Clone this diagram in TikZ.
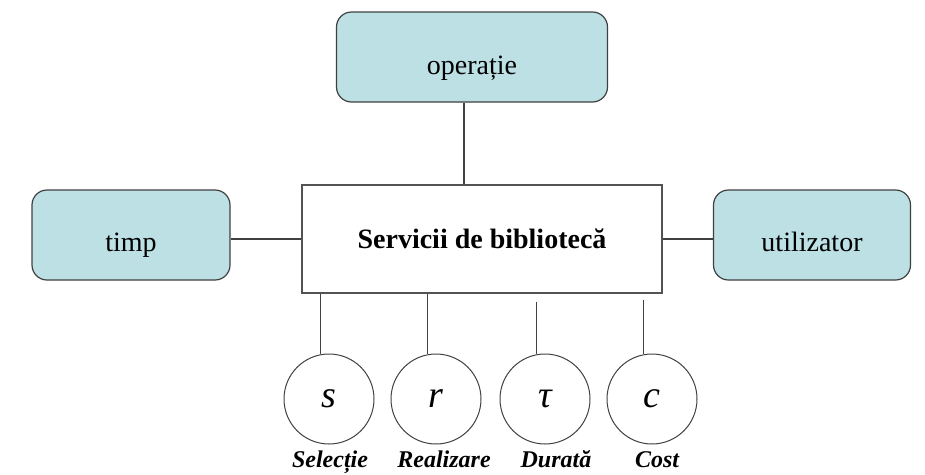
\documentclass[tikz,border=0pt]{standalone}
\usepackage{fontspec}
\setmainfont{Liberation Serif}
\usepackage{tikz}
\usetikzlibrary{shapes,positioning}
\definecolor{BoxTeal}{HTML}{BCE0E4}
\definecolor{EdgeGray}{HTML}{404040}
\tikzset{
  every node/.style={
    font=\fontsize{28}{32}\selectfont
  },
  attribute/.style={
    shape=rectangle,
    rounded corners=15pt,
    draw=EdgeGray,
    line width=1.2pt,
    fill=BoxTeal,
    inner sep=0pt,
    minimum height=90pt,
    text depth=0pt
  },
  service/.style={
    shape=rectangle,
    draw=EdgeGray!90,
    line width=1.2pt,
    fill=white,
    minimum width=360pt,
    minimum height=108pt,
    font=\fontsize{28}{32}\selectfont\bfseries
  },
  factor/.style={
    shape=circle,
    draw=EdgeGray,
    line width=1pt,
    minimum size=90pt,
    inner sep=0pt,
    font=\fontsize{38}{40}\selectfont\itshape
  },
  factor label/.style={
    anchor=base,
    font=\fontsize{24}{28}\selectfont\bfseries\itshape
  },
  link/.style={
    draw=EdgeGray,
    line width=1.2pt
  }
}
\begin{document}
\begin{tikzpicture}[x=1pt,y=-1pt]
  \useasboundingbox (0,0) rectangle (925,474);
  % central box and the three attributes
  \node[service] (main) at (482,239) {Servicii de bibliotecă};
  \node[attribute,minimum width=271pt,text height=34pt] (op) at (472,57) {operație};
  \node[attribute,minimum width=198pt,text height=32pt] (time) at (131,235) {timp};
  \node[attribute,minimum width=197pt,text height=32pt] (user) at (812,235) {utilizator};
  \draw[link] ([xshift=-8pt]op.south) -- ([xshift=-8pt]op.south |- main.north);
  \draw[link] (time.east |- main) -- (main.west);
  \draw[link] (main.east) -- (user.west |- main);
  % service factors
  \node[factor] (sel) at (329,399) {s};
  \node[factor] (real) at (436,399) {r};
  \node[factor] (dur) at (545,399) {τ};
  \node[factor] (cost) at (652,399) {c};
  \node[factor label] (sellbl) at (330,467) {Selecție};
  \node[factor label] (reallbl) at (444,467) {Realizare};
  \node[factor label] (durlbl) at (556,467) {Durată};
  \node[factor label] (costlbl) at (657,467) {Cost};
  \draw[link] (main.south -| sel.101) -- (sel.101);
  \draw[link] (main.south -| real.101) -- (real.101);
  \draw[link] ([yshift=-8pt]main.south -| dur.101) -- (dur.101);
  \draw[link] ([yshift=-6pt]main.south -| cost.101) -- (cost.101);
\end{tikzpicture}
\end{document}
